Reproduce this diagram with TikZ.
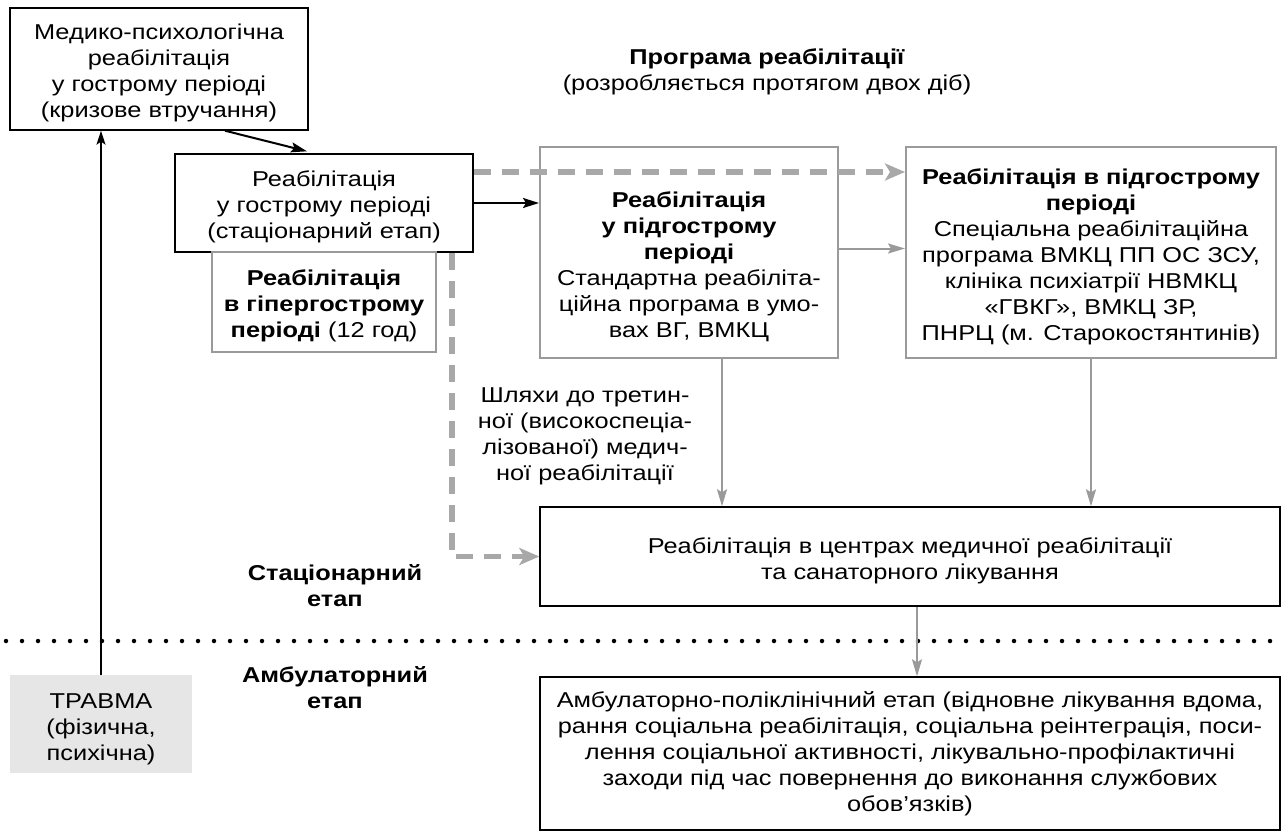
\documentclass[tikz,border=0pt]{standalone}
\usepackage{fontspec}
\setmainfont{Liberation Sans}[FakeStretch=1.18]
\usetikzlibrary{arrows.meta,calc}
\definecolor{gline}{HTML}{9A9A9A}
\definecolor{gdash}{HTML}{A8A8A8}
\definecolor{tfill}{HTML}{E6E6E6}
\newcommand\fstrut{\rule{0pt}{24pt}}
\begin{document}
\begin{tikzpicture}[x=1pt,y=-1pt,
  every node/.style={font=\fontsize{21.5pt}{26pt}\selectfont, align=center, inner sep=0pt},
  bbox/.style={draw=black, line width=1.4pt},
  gbox/.style={draw=gline, line width=2pt},
  barrow/.style={draw=black, line width=2pt, -{Stealth[length=16pt,width=10pt,inset=3pt]}},
  thinarrow/.style={draw=black, line width=1.1pt, -{Stealth[length=14pt,width=9pt,inset=3pt]}},
  garrow/.style={draw=gline, line width=2pt, -{Stealth[length=17pt,width=10pt,inset=3pt]}},
  gdashed/.style={draw=gdash, line width=5.5pt, dash pattern=on 17pt off 11pt, -{Stealth[length=20pt,width=17pt,inset=5pt]}},
  dotline/.style={draw=black, line width=4.5pt, line cap=round, dash pattern=on 0pt off 16pt}
]
\useasboundingbox (0,0) rectangle (1282,836);

% boxes
\node[bbox, minimum width=298pt, minimum height=122pt] (A) at (159,69)
  {\fstrut Медико-психологічна\\реабілітація\\у гострому періоді\\(кризове втручання)};
\node[bbox, minimum width=298pt, minimum height=98pt] (B) at (324,203)
  {\fstrut Реабілітація\\у гострому періоді\\(стаціонарний етап)};
\node[gbox, minimum width=224pt, minimum height=100pt] (C) at (324,302)
  {\fstrut\textbf{Реабілітація}\\\textbf{в гіпергострому}\\\textbf{періоді} (12 год)};
\node[gbox, minimum width=298pt, minimum height=211pt] (D) at (689,252.5) {};
\node (Dt) at (689,267)
  {\textbf{Реабілітація}\\\textbf{у підгострому}\\\textbf{періоді}\\Стандартна реабіліта-\\ційна програма в умо-\\вах ВГ, ВМКЦ};
\node[gbox, minimum width=370pt, minimum height=211pt] (E) at (1091,252.5)
  {\fstrut\textbf{Реабілітація в підгострому}\\\textbf{періоді}\\Спеціальна реабілітаційна\\програма ВМКЦ ПП ОС ЗСУ,\\клініка психіатрії НВМКЦ\\«ГВКГ», ВМКЦ ЗР,\\ПНРЦ (м. Старокостянтинів)};
\node[bbox, minimum width=740pt, minimum height=99pt] (F) at (910,556.5)
  {\fstrut Реабілітація в центрах медичної реабілітації\\та санаторного лікування};
\node[bbox, minimum width=740pt, minimum height=153pt] (G) at (910,753.5)
  {Амбулаторно-поліклінічний етап (відновне лікування вдома,\\рання соціальна реабілітація, соціальна реінтеграція, поси-\\лення соціальної активності, лікувально-профілактичні\\заходи під час повернення до виконання службових\\обов’язків)};
\node[fill=tfill, minimum width=182pt, minimum height=98pt] (T) at (101,724)
  {\rule{0pt}{26pt}ТРАВМА\\(фізична,\\психічна)};

% free labels
\node (title) at (767,72) {\textbf{Програма реабілітації}\\(розробляється протягом двох діб)};
\node (stac) at (335,586) {\textbf{Стаціонарний}\\\textbf{етап}};
\node (amb) at (335,688) {\textbf{Амбулаторний}\\\textbf{етап}};
\node (path) at (585,436) {Шляхи до третин-\\ної (високоспеціа-\\лізованої) медич-\\ної реабілітації};

% dotted separator
\coordinate (dl) at (6,641);
\coordinate (dr) at (1282,641);
\draw[dotline] (dl) -- (dr);

% connectors
\draw[thinarrow] (T.north) -- (T.north |- A.south);
\draw[barrow] ([xshift=66pt]A.south) -- ([xshift=-17pt,yshift=2pt]B.north);
\draw[barrow] (B.east) -- (B.east -| D.west);
\draw[gdashed] ([yshift=31pt]B.east) -- ([yshift=31pt]B.east -| E.west);
\draw[gdashed] ([xshift=128pt]B.south) |- (F.west);
\draw[garrow] ([yshift=4pt]D.east) -- ([yshift=4pt]D.east -| E.west);
\draw[garrow] ([xshift=33pt]D.south) -- ([xshift=33pt]D.south |- F.north);
\draw[garrow] (E.south) -- (E.south |- F.north);
\draw[garrow] ([xshift=7pt]F.south) -- ([xshift=7pt]F.south |- G.north);
\end{tikzpicture}
\end{document}
